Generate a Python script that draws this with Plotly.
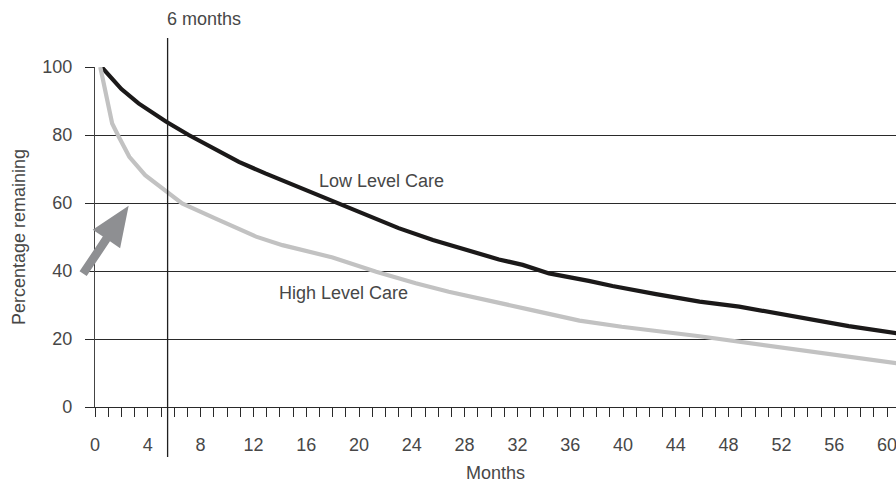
import plotly.graph_objects as go
import math

# ---- data ----
low_months = [0.5, 2.0, 3.3, 5.4, 7.1, 8.9, 10.9, 12.9, 14.7, 16.2, 18.5, 20.5, 23.0, 25.6,
              28.1, 30.6, 32.4, 34.4, 37.4, 39.2, 42.5, 45.8, 48.8, 51.6, 54.3, 57.1, 60.7]
low_values = [100, 93.5, 89.3, 83.9, 80.0, 76.1, 72.1, 68.7, 65.8, 63.3, 59.9, 56.5, 52.6, 49.1,
              46.2, 43.4, 41.8, 39.3, 37.1, 35.6, 33.2, 31.0, 29.5, 27.6, 25.6, 23.8, 21.7]

high_months = [0.4, 1.3, 1.8, 2.6, 3.8, 5.4, 6.6, 9.1, 12.2, 14.2, 16.2, 18.0, 21.3, 24.3,
               26.8, 30.6, 33.1, 36.7, 39.9, 45.8, 48.8, 52.6, 56.4, 60.7]
high_values = [100, 83.4, 79.5, 73.6, 68.2, 63.3, 59.9, 55.5, 50.1, 47.6, 45.8, 44.0, 39.8, 36.4,
               33.9, 30.5, 28.5, 25.4, 23.6, 20.8, 19.2, 17.1, 15.0, 12.9]

x_tick_vals = list(range(0, 61, 4))
x_tick_text = [str(v) for v in x_tick_vals]
y_tick_vals = [0, 20, 40, 60, 80, 100]
y_tick_text = [str(v) for v in y_tick_vals]

marker_month = 5.5
marker_label = "6 months"
series_names = ["Low Level Care", "High Level Care"]
label_pos = [(21.7, 66.5), (18.8, 33.5)]
arrow_tail = (-0.9, 39.2)
arrow_tip = (2.55, 59.2)

# ---- layout geometry ----
W, H = 896, 483
ML, MR, MT, MB = 95, 0, 67, 76
plot_w = W - ML - MR
plot_h = H - MT - MB
x_range = [0, 60.68]
y_range = [0, 100]

TEXT = "#474747"
FONT = "Liberation Sans, Arial, sans-serif"
FS = 18

fig = go.Figure()
fig.add_trace(go.Scatter(x=low_months, y=low_values, mode="lines",
                         line=dict(color="#1b1919", width=4.2), name=series_names[0],
                         hoverinfo="skip"))
fig.add_trace(go.Scatter(x=high_months, y=high_values, mode="lines",
                         line=dict(color="#c2c2c2", width=4.2), name=series_names[1],
                         hoverinfo="skip"))

# labels on lines
for name, (lx, ly) in zip(series_names, label_pos):
    fig.add_annotation(x=lx, y=ly, text=name, showarrow=False,
                       font=dict(size=FS, color=TEXT, family=FONT))

# 6 months vertical line and label
fig.add_shape(type="line", xref="x", yref="paper", x0=marker_month, x1=marker_month,
              y0=-50 / plot_h, y1=(plot_h + 29) / plot_h,
              line=dict(color="#1f1f1f", width=1.3), layer="above")
fig.add_annotation(x=marker_month, xref="x", y=(plot_h + 48) / plot_h, yref="paper",
                   text=marker_label, showarrow=False, xanchor="left", yanchor="middle",
                   xshift=-3, font=dict(size=FS, color=TEXT, family=FONT))

# arrow (filled polygon), computed in pixel space and converted to domain fractions
sx = plot_w / (x_range[1] - x_range[0])
sy = plot_h / (y_range[1] - y_range[0])
tx, ty = (arrow_tail[0] - x_range[0]) * sx, (arrow_tail[1] - y_range[0]) * sy
hx, hy = (arrow_tip[0] - x_range[0]) * sx, (arrow_tip[1] - y_range[0]) * sy
L = math.hypot(hx - tx, hy - ty)
ux, uy = (hx - tx) / L, (hy - ty) / L
px_, py_ = -uy, ux
shaft_half = 4.3
head_half = 16.5
head_len = 40
bx, by = hx - ux * head_len, hy - uy * head_len
pts = [
    (tx + px_ * shaft_half, ty + py_ * shaft_half),
    (bx + px_ * shaft_half, by + py_ * shaft_half),
    (bx + px_ * head_half, by + py_ * head_half),
    (hx, hy),
    (bx - px_ * head_half, by - py_ * head_half),
    (bx - px_ * shaft_half, by - py_ * shaft_half),
    (tx - px_ * shaft_half, ty - py_ * shaft_half),
]
path = "M " + " L ".join(f"{x / plot_w:.5f},{y / plot_h:.5f}" for x, y in pts) + " Z"
fig.add_shape(type="path", xref="x domain", yref="y domain", path=path,
              fillcolor="#8e8f92", line=dict(width=0), layer="above")

fig.update_layout(
    width=W, height=H,
    margin=dict(l=ML, r=MR, t=MT, b=MB, autoexpand=False),
    paper_bgcolor="white", plot_bgcolor="white",
    showlegend=False,
    font=dict(family=FONT, size=FS, color=TEXT),
    xaxis=dict(
        range=x_range, showgrid=False, zeroline=False, automargin=False,
        showline=True, linecolor="#2a2a2a", linewidth=1.2,
        tickmode="array", tickvals=x_tick_vals, ticktext=x_tick_text,
        ticks="outside", ticklen=9, tickwidth=1, tickcolor="#2a2a2a",
        minor=dict(dtick=1, tick0=0, ticks="outside", ticklen=9, tickwidth=1,
                   tickcolor="#2a2a2a", showgrid=False),
        ticklabelstandoff=12, ticklabeloverflow="allow",
        tickfont=dict(size=FS, color=TEXT),
        title=dict(text="Months", font=dict(size=FS, color=TEXT), standoff=14),
    ),
    yaxis=dict(
        range=y_range, showgrid=True, gridcolor="#2a2a2a", gridwidth=1.2,
        zeroline=False, showline=True, linecolor="#444444", linewidth=1.2,
        automargin=False,
        tickmode="array", tickvals=y_tick_vals, ticktext=y_tick_text,
        ticks="outside", ticklen=9, tickwidth=1.2, tickcolor="#2a2a2a",
        ticklabelstandoff=9, ticklabeloverflow="allow",
        tickfont=dict(size=FS, color=TEXT),
        title=dict(text="Percentage remaining", font=dict(size=FS, color=TEXT), standoff=11),
    ),
)

fig.write_html("out.html", config={"displayModeBar": False},
               post_script="document.body.style.margin='0';")
